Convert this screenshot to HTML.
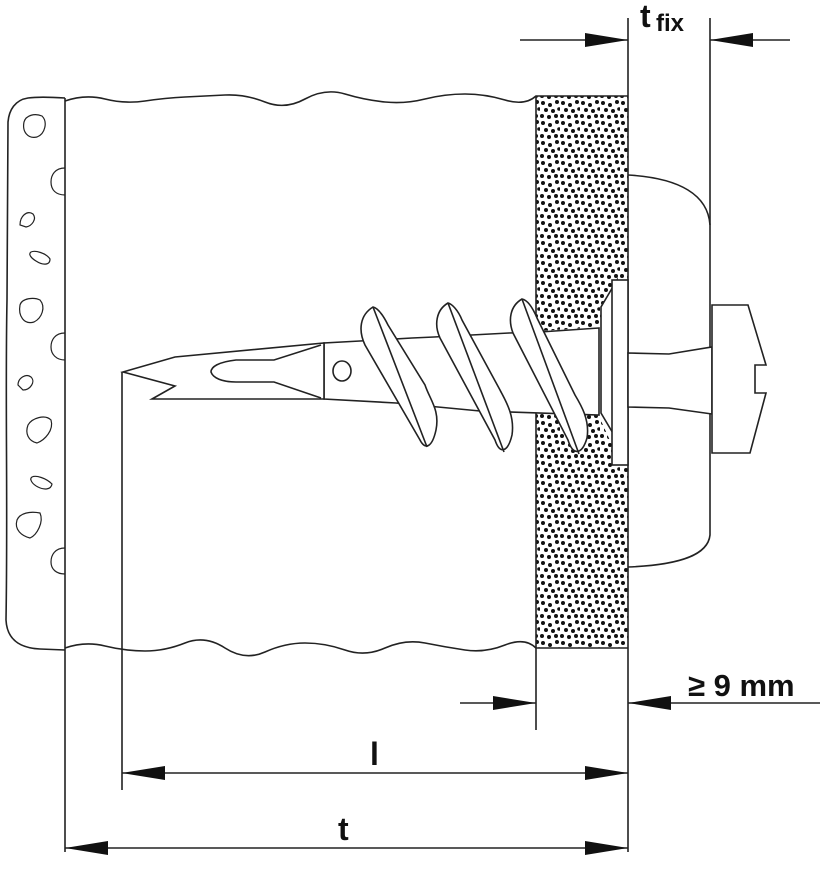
<!DOCTYPE html>
<html><head><meta charset="utf-8"><style>
html,body{margin:0;padding:0;background:#fff;}
svg{display:block;}
text{font-family:"Liberation Sans",sans-serif;font-weight:bold;fill:#111;}
</style></head><body>
<svg width="822" height="880" viewBox="0 0 822 880" xmlns="http://www.w3.org/2000/svg">
<defs>
<pattern id="dots" width="20" height="20" patternUnits="userSpaceOnUse">
<g fill="#111">
<circle cx="3" cy="3" r="2"/><circle cx="10" cy="5" r="2"/><circle cx="17" cy="2" r="2"/>
<circle cx="6" cy="10" r="2"/><circle cx="13" cy="11" r="2"/><circle cx="19" cy="9" r="1.8"/>
<circle cx="2" cy="16" r="2"/><circle cx="9" cy="17" r="2"/><circle cx="16" cy="16" r="2"/>
</g>
</pattern>
</defs>
<g fill="none" stroke="#222" stroke-width="1.6">
<rect x="536" y="96" width="92" height="552" fill="url(#dots)" stroke="none"/>
<path d="M540,331 L600,327 L612,300 L612,445 L598,414 L540,412 Z" fill="#fff" stroke="none"/>
<line x1="536" y1="96" x2="536" y2="730"/>
<path d="M628,175 C680,178 708,195 710,225 L710,535 C708,555 680,565 628,567"/>
<path d="M65,98 C50,97 35,97 28,98 C15,100 9,110 8,122 L7,300 C5,400 8,500 6,620 C7,640 20,648 40,649 L65,650"/>
<path d="M65,101 Q85,94 105,99 T145,101 T185,97 T225,95 T265,102 T305,99 T345,94 T385,102 T425,99 T465,94 T505,100 T536,96 L628,96"/>
<path d="M65,648 Q85,641 105,646 T145,651 T185,643 T225,648 T265,652 T305,643 T345,650 T385,648 T425,643 T465,650 T505,645 T536,648 L628,648"/>
<g stroke-width="1.2">
<path d="M24,122 C26,115 35,113 42,116 C48,122 45,134 37,137 C28,139 22,132 24,122Z"/>
<path d="M65,168 C55,168 51,175 51,182 C51,190 56,195 65,195"/>
<path d="M20,225 C20,216 27,210 33,214 C37,219 32,226 26,227Z"/>
<path d="M31,252 C35,250 46,253 50,259 C50,266 42,265 36,261 C31,258 28,254 31,252Z"/>
<path d="M20,305 C22,298 34,297 40,300 C46,307 42,318 34,322 C24,325 18,316 20,305Z"/>
<path d="M65,333 C55,333 51,340 51,347 C51,354 56,360 65,360"/>
<path d="M18,385 C18,378 26,373 31,377 C36,382 30,390 23,390Z"/>
<path d="M28,425 C32,418 45,414 51,420 C54,430 45,440 37,443 C28,441 25,433 28,425Z"/>
<path d="M32,477 C36,475 46,478 52,484 C51,490 44,490 38,487 C32,484 29,479 32,477Z"/>
<path d="M17,520 C20,513 30,511 40,513 C44,522 37,535 30,538 C22,536 14,530 17,520Z"/>
<path d="M65,548 C55,548 51,555 51,562 C51,569 56,574 65,574"/>
</g>
<line x1="65" y1="98" x2="65" y2="852"/>
<line x1="628" y1="18" x2="628" y2="852"/>
<line x1="710" y1="18" x2="710" y2="225"/>
<line x1="122" y1="372" x2="122" y2="790"/>
<line x1="65" y1="848" x2="628" y2="848"/>
<line x1="122" y1="773" x2="628" y2="773"/>
<line x1="460" y1="703" x2="536" y2="703"/>
<line x1="628" y1="703" x2="820" y2="703"/>
<line x1="520" y1="40" x2="628" y2="40"/>
<line x1="710" y1="40" x2="790" y2="40"/>
<g fill="#fff">
<path d="M599,328 L540,332 L509,333 L434,337 L412,338 L360,341 L324,343 L324,399 L396,403 L480,411 L599,415 Z"/>
<path d="M123,372 L175,357 L324,343 L324,399 L152,399 L175,386 Z"/>
<path d="M321,345 L274,360 L236,360 C218,362 211,367 211,372 C213,378 222,382 236,382 L274,382 L321,398" fill="none"/>
<ellipse cx="342" cy="371" rx="9" ry="10"/>
<path d="M373,307 C360,315 358,330 365,345 L420,440 C425,450 432,448 436,430 C440,410 430,400 425,385 L388,325 C383,315 378,308 373,307Z"/>
<path d="M373,307 L427,447"/>
<path d="M448,303 C436,310 434,325 440,338 L495,440 C500,455 508,452 512,435 C515,415 505,400 500,390 L462,320 C458,310 452,304 448,303Z"/>
<path d="M448,303 L504,452"/>
<path d="M522,299 C510,306 508,320 513,333 L568,440 C573,456 582,455 587,438 C590,420 581,405 575,395 L537,318 C532,306 527,300 522,299Z"/>
<path d="M522,299 L579,454"/>
<path d="M617,280 L601,307 L601,413 L617,440 Z"/>
<rect x="612" y="280" width="16" height="185"/>
<path d="M628,353 L669,354 L712,347 L712,414 L669,408 L628,407 Z"/>
<path d="M712,305 L748,305 L766,365 L755,365 L755,393 L766,393 L750,453 L712,453 Z"/>
</g>
</g>
<g fill="#111">
<path d="M65,848 L108,841 L108,855 Z"/>
<path d="M628,848 L585,841 L585,855 Z"/>
<path d="M122,773 L165,766 L165,780 Z"/>
<path d="M628,773 L585,766 L585,780 Z"/>
<path d="M536,703 L493,696 L493,710 Z"/>
<path d="M628,703 L671,696 L671,710 Z"/>
<path d="M628,40 L585,33 L585,47 Z"/>
<path d="M710,40 L753,33 L753,47 Z"/>
</g>
<text x="338" y="840" font-size="32">t</text>
<text x="370" y="765" font-size="32">l</text>
<text x="688" y="696" font-size="31">≥ 9 mm</text>
<text x="640" y="27" font-size="32">t</text>
<text x="656" y="31" font-size="24">fix</text>
</svg>
</body></html>
